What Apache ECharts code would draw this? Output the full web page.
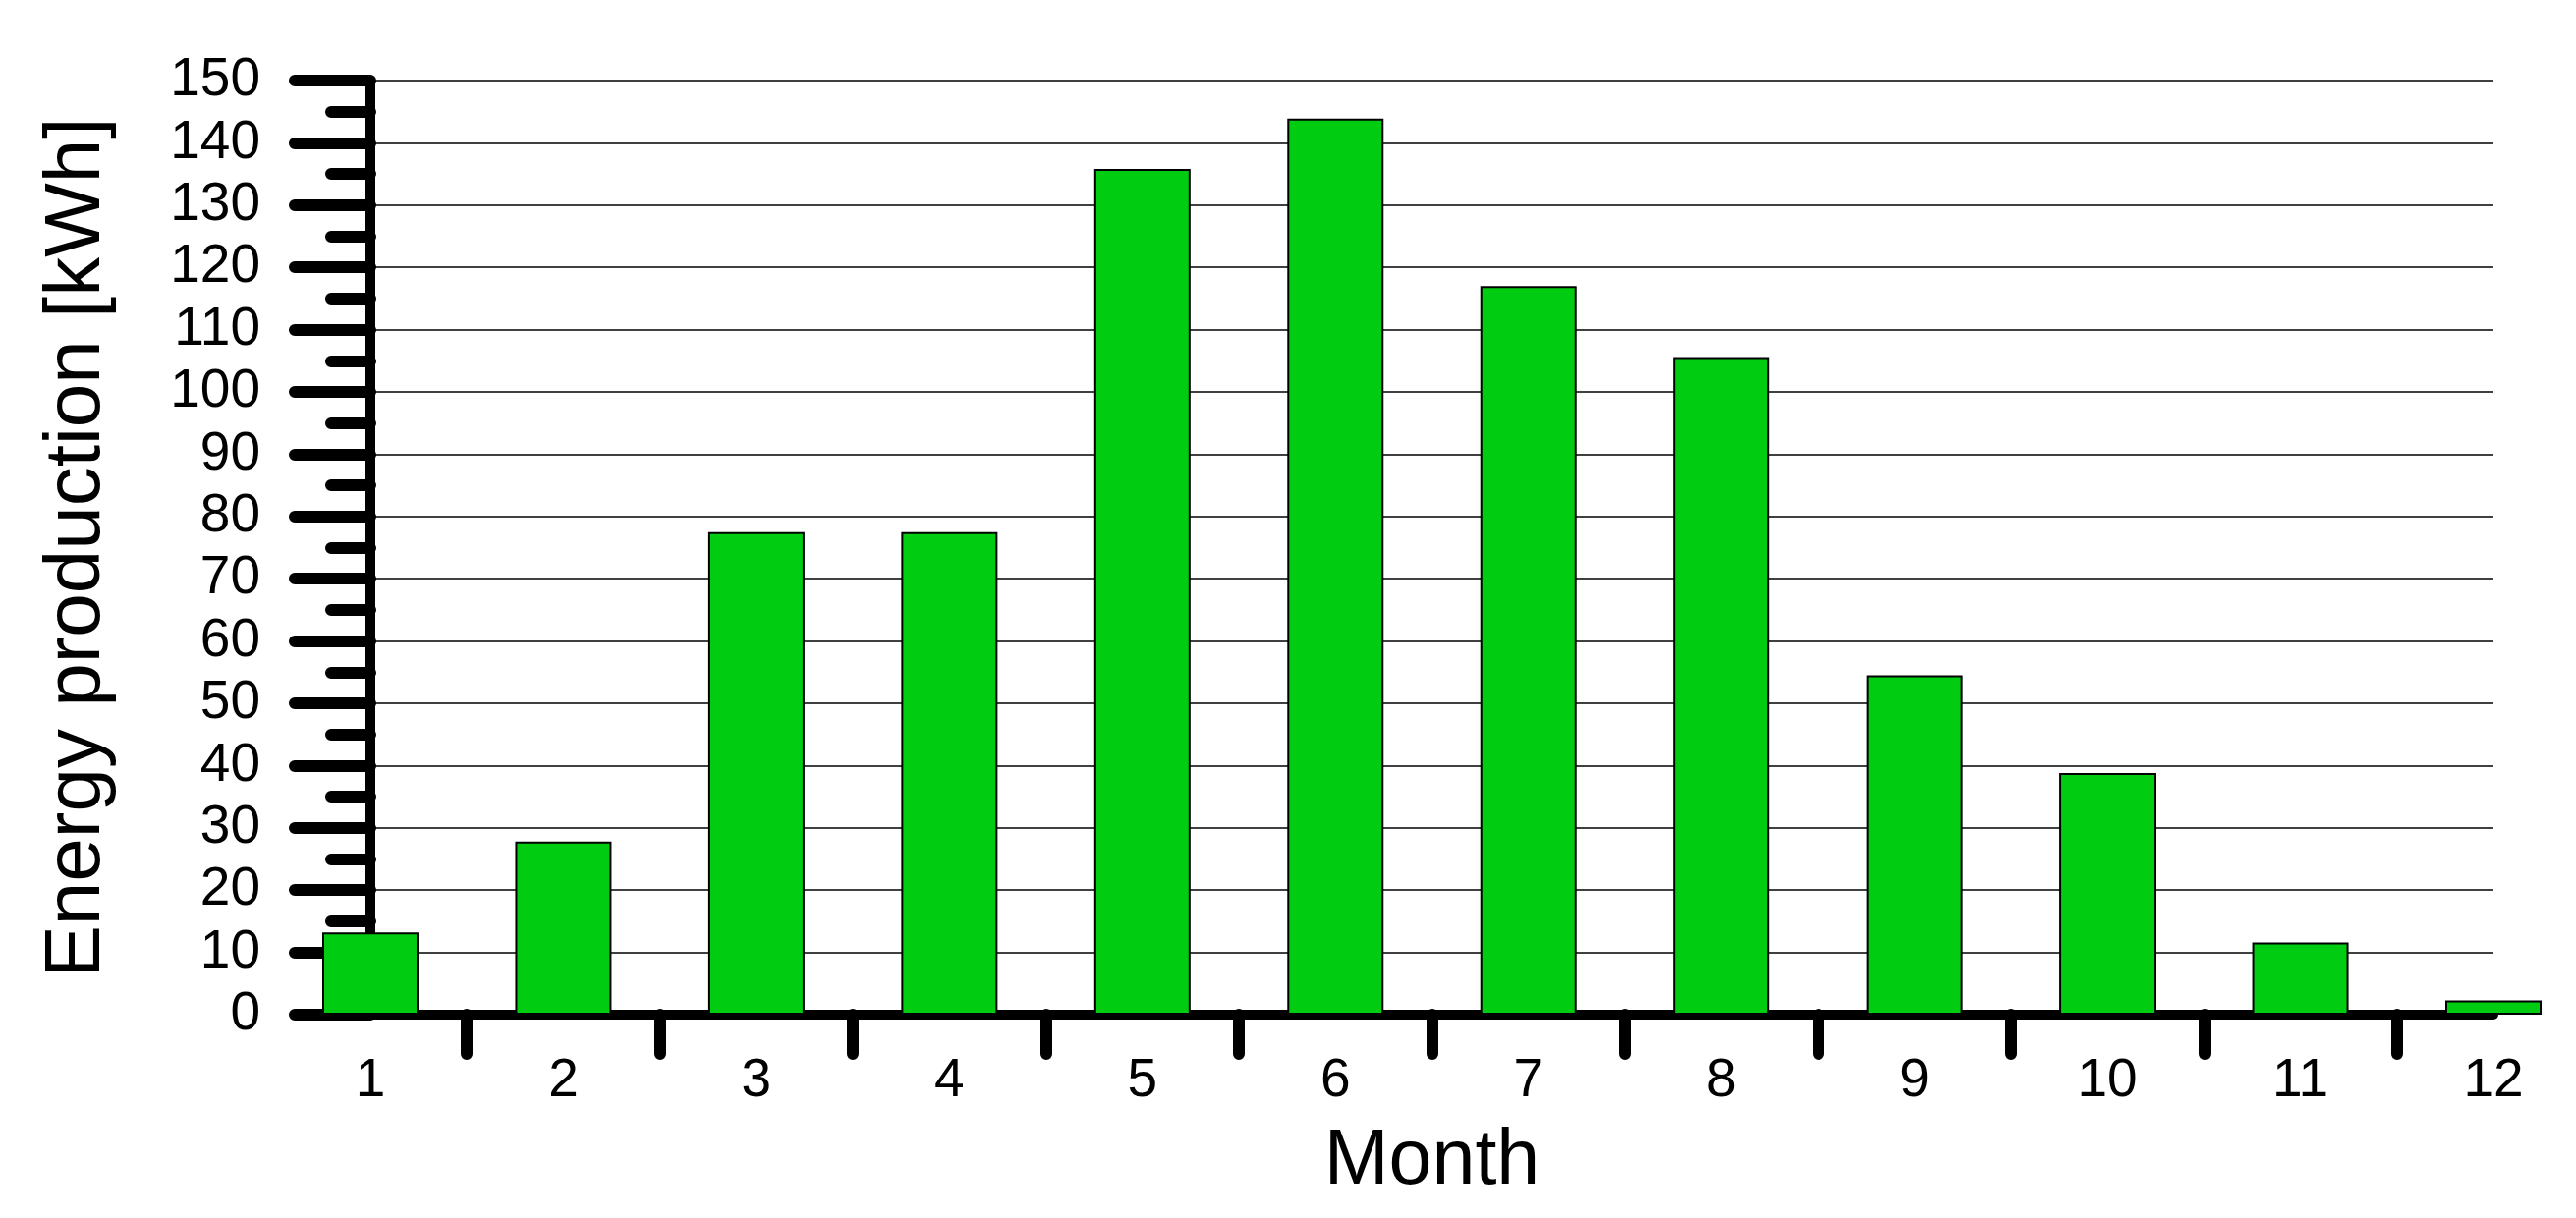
<!DOCTYPE html>
<html>
<head>
<meta charset="utf-8">
<title>Energy production</title>
<script src="https://cdn.jsdelivr.net/npm/echarts@6/dist/echarts.min.js"></script>
<style>
  html, body { margin: 0; padding: 0; background: #fff; }
  #chart { width: 2622px; height: 1240px; }
</style>
</head>
<body>
<div id="chart"></div>
<script>
// 月份和发电量
var months = [1, 2, 3, 4, 5, 6, 7, 8, 9, 10, 11, 12];
var energy = [13.2, 27.8, 77.5, 77.5, 135.8, 143.9, 117.0, 105.6, 54.5, 38.8, 11.6, 2.3];
// x轴刻度在两个月之间
var monthTicks = [1.5, 2.5, 3.5, 4.5, 5.5, 6.5, 7.5, 8.5, 9.5, 10.5, 11.5];

var barData = [];
for (var i = 0; i < months.length; i++) {
  barData.push([months[i], energy[i]]);
}

var font = "'Liberation Sans', Arial, sans-serif";
var chart = echarts.init(document.getElementById("chart"));

var option = {
  animation: false,
  backgroundColor: "#ffffff",
  grid: {
    left: 377,
    right: 84,
    top: 82,
    bottom: 207,
  },
  xAxis: {
    type: "value",
    min: 1,
    max: 12,
    interval: 1,
    name: "Month",
    nameLocation: "middle",
    nameGap: 111,
    nameTextStyle: { fontFamily: font, fontSize: 79, color: "#000" },
    axisLine: {
      show: true,
      lineStyle: { color: "#000", width: 10, cap: "round" },
    },
    axisTick: {
      show: true,
      customValues: monthTicks,
      length: 40,
      lineStyle: { color: "#000", width: 12, cap: "round" },
    },
    axisLabel: {
      customValues: months,
      margin: 40,
      fontFamily: font,
      fontSize: 55,
      color: "#000",
    },
    splitLine: { show: false },
  },
  yAxis: {
    type: "value",
    min: 0,
    max: 150,
    interval: 10,
    name: "Energy production [kWh]",
    nameLocation: "middle",
    nameGap: 258,
    nameTextStyle: { fontFamily: font, fontSize: 80, color: "#000" },
    axisLine: {
      show: true,
      lineStyle: { color: "#000", width: 10, cap: "round" },
    },
    axisTick: {
      show: true,
      length: 77,
      lineStyle: { color: "#000", width: 12, cap: "round" },
    },
    minorTick: {
      show: true,
      splitNumber: 2,
      length: 40,
      lineStyle: { color: "#000", width: 12, cap: "round" },
    },
    axisLabel: {
      margin: 112,
      fontFamily: font,
      fontSize: 55,
      color: "#000",
    },
    splitLine: {
      show: true,
      lineStyle: { color: "#000", width: 1.5 },
    },
  },
  series: [
    {
      type: "bar",
      data: barData,
      barWidth: 98,
      clip: false,
      itemStyle: {
        color: "#00cc11",
        borderColor: "#000",
        borderWidth: 2,
      },
    },
  ],
};

chart.setOption(option);
</script>
</body>
</html>
